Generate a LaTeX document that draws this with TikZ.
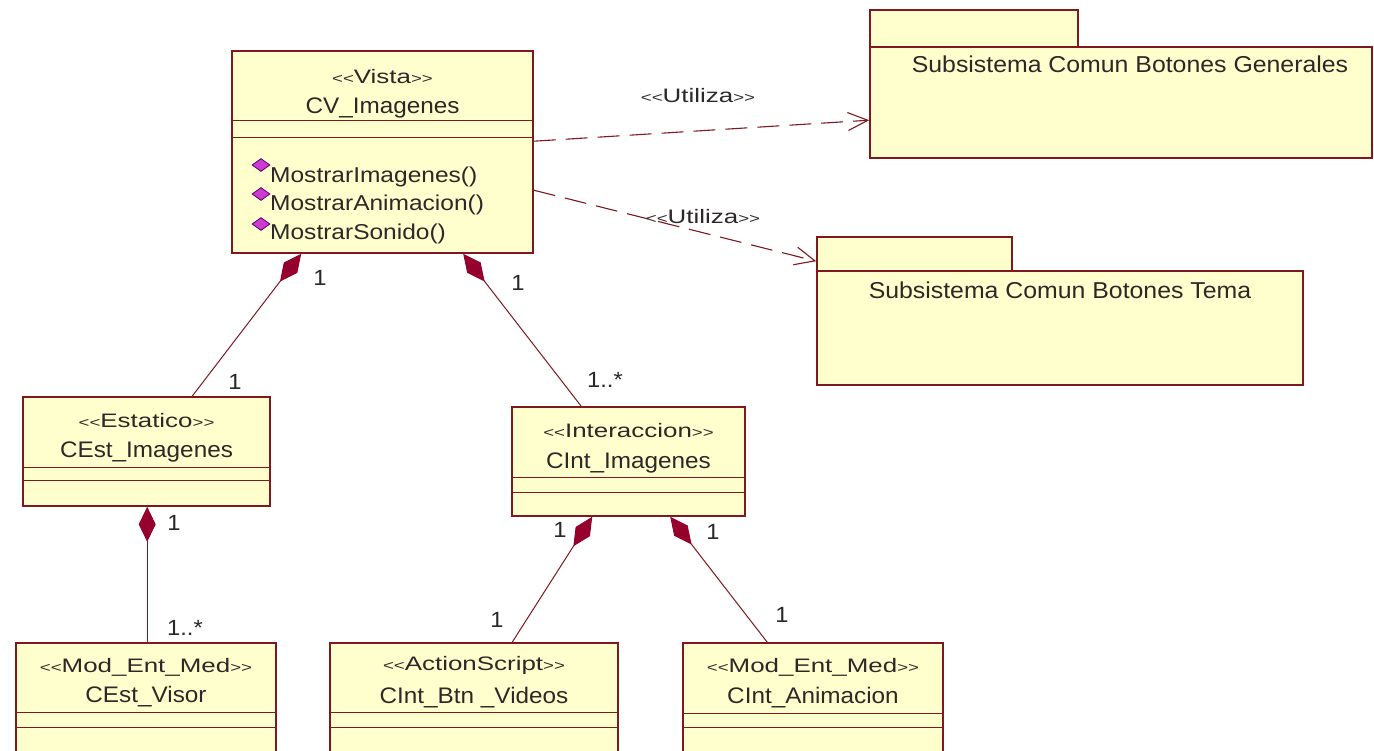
\documentclass[tikz,border=0pt]{standalone}
\usepackage{fontspec}
\setmainfont{Liberation Sans}[FakeStretch=1.08]
\newfontfamily\stfont{Liberation Sans}[FakeStretch=1.33]
\newfontfamily\opfont{Liberation Sans}[FakeStretch=1.14]
\usetikzlibrary{arrows.meta,shapes.geometric}

\definecolor{umlfill}{RGB}{255,255,206}
\definecolor{umlline}{RGB}{128,24,32}
\definecolor{compfill}{RGB}{150,0,45}
\definecolor{opfill}{RGB}{204,60,210}
\definecolor{opline}{RGB}{90,0,100}
\definecolor{txt}{RGB}{45,40,40}

% small chevrons of a stereotype, set one by one
\newcommand\chevl{\mbox{\fontsize{14}{14}\selectfont<}}
\newcommand\chevr{\mbox{\fontsize{14}{14}\selectfont>}}
\newcommand\stereo[1]{\chevl\chevl#1\chevr\chevr}

\begin{document}
\begin{tikzpicture}[x=1pt,y=-1pt,
  text=txt,
  classbox/.style={draw=umlline, fill=umlfill, line width=1.6pt, inner sep=0pt},
  sep/.style={draw=umlline, line width=1.4pt},
  stereotxt/.style={anchor=base, inner sep=0pt, font=\stfont\fontsize{19.5}{19.5}\selectfont},
  nametxt/.style={anchor=base, inner sep=0pt, font=\fontsize{22.5}{22.5}\selectfont},
  optxt/.style={anchor=base west, inner sep=0pt, font=\opfont\fontsize{21.5}{21.5}\selectfont},
  opicon/.style={diamond, draw=opline, fill=opfill, line width=0.8pt, inner sep=0pt,
    minimum width=18pt, minimum height=13pt},
  pkgtxt/.style={anchor=base, inner sep=0pt, font=\fontsize{23}{23}\selectfont},
  mult/.style={inner sep=0pt, font=\fontsize{22}{22}\selectfont},
  comp/.style={draw=umlline, line width=1pt,
    {Diamond[length=35pt,width=17pt,color=compfill,fill=compfill]}-},
  dep/.style={draw=umlline, line width=1.1pt, dash pattern=on 22pt off 10pt,
    -{Straight Barb[length=20pt,width=18pt]}},
  deplabel/.style={anchor=base, inner sep=0pt, font=\stfont\fontsize{19.5}{19.5}\selectfont}
]
\useasboundingbox (0,0) rectangle (1374,750);
\fill[white] (0,0) rectangle (1374,750);
\clip (0,0) rectangle (1374,750);

% ---------- packages ----------
\node[classbox, minimum width=208pt, minimum height=37pt] (pgTab) at (974,28.5) {};
\node[classbox, minimum width=502pt, minimum height=111pt] (pgBody) at (1121,102.5) {};
\node[pkgtxt] (pgName) at (1130,72) {Subsistema Comun Botones Generales};

\node[classbox, minimum width=195pt, minimum height=34pt] (ptTab) at (914.5,254) {};
\node[classbox, minimum width=486pt, minimum height=114pt] (ptBody) at (1060,328) {};
\node[pkgtxt] (ptName) at (1060,298) {Subsistema Comun Botones Tema};

% ---------- CV_Imagenes ----------
\node[classbox, minimum width=301pt, minimum height=202pt] (cv) at (382.5,152) {};
\draw[sep] ([yshift=-70pt]cv.north west) -- ([yshift=-70pt]cv.north east);
\draw[sep] ([yshift=-87pt]cv.north west) -- ([yshift=-87pt]cv.north east);
\node[stereotxt] (cvS) at (382.5,83) {\stereo{Vista}};
\node[nametxt] (cvN) at (382.5,113) {CV\_Imagenes};
\node[opicon] (op1) at (261,165) {};
\node[opicon] (op2) at (261,194) {};
\node[opicon] (op3) at (261,224) {};
\node[optxt] (op1t) at (270,182) {MostrarImagenes()};
\node[optxt] (op2t) at (270,210) {MostrarAnimacion()};
\node[optxt] (op3t) at (270,239) {MostrarSonido()};

% ---------- CEst_Imagenes ----------
\node[classbox, minimum width=247pt, minimum height=109pt] (cest) at (146.5,451.5) {};
\draw[sep] ([yshift=-71pt]cest.north west) -- ([yshift=-71pt]cest.north east);
\draw[sep] ([yshift=-84pt]cest.north west) -- ([yshift=-84pt]cest.north east);
\node[stereotxt] (cestS) at (146.5,427) {\stereo{Estatico}};
\node[nametxt] (cestN) at (146.5,457) {CEst\_Imagenes};

% ---------- CInt_Imagenes ----------
\node[classbox, minimum width=233pt, minimum height=109pt] (cint) at (628.5,461.5) {};
\draw[sep] ([yshift=-71pt]cint.north west) -- ([yshift=-71pt]cint.north east);
\draw[sep] ([yshift=-86pt]cint.north west) -- ([yshift=-86pt]cint.north east);
\node[stereotxt] (cintS) at (628.5,437) {\stereo{Interaccion}};
\node[nametxt] (cintN) at (628.5,468) {CInt\_Imagenes};

% ---------- CEst_Visor ----------
\node[classbox, minimum width=260pt, minimum height=127pt] (visor) at (146,706.5) {};
\draw[sep] ([yshift=-70pt]visor.north west) -- ([yshift=-70pt]visor.north east);
\draw[sep] ([yshift=-85pt]visor.north west) -- ([yshift=-85pt]visor.north east);
\node[stereotxt] (visorS) at (146,672) {\stereo{Mod\_Ent\_Med}};
\node[nametxt] (visorN) at (146,702) {CEst\_Visor};

% ---------- CInt_Btn_Videos ----------
\node[classbox, minimum width=288pt, minimum height=127pt] (btn) at (474,706.5) {};
\draw[sep] ([yshift=-70pt]btn.north west) -- ([yshift=-70pt]btn.north east);
\draw[sep] ([yshift=-85pt]btn.north west) -- ([yshift=-85pt]btn.north east);
\node[stereotxt] (btnS) at (474,670) {\stereo{ActionScript}};
\node[nametxt] (btnN) at (474,703) {CInt\_Btn \_Videos};

% ---------- CInt_Animacion ----------
\node[classbox, minimum width=260pt, minimum height=127pt] (anim) at (813,706.5) {};
\draw[sep] ([yshift=-71pt]anim.north west) -- ([yshift=-71pt]anim.north east);
\draw[sep] ([yshift=-85pt]anim.north west) -- ([yshift=-85pt]anim.north east);
\node[stereotxt] (animS) at (813,672) {\stereo{Mod\_Ent\_Med}};
\node[nametxt] (animN) at (813,703) {CInt\_Animacion};

% ---------- compositions ----------
\draw[comp] ([xshift=70pt]cv.south west) -- ([xshift=170pt]cest.north west);
\draw[comp] ([xshift=232pt]cv.south west) -- ([xshift=70pt]cint.north west);
\draw[comp] ([xshift=125pt]cest.south west) -- ([xshift=132pt]visor.north west);
\draw[comp] ([xshift=81pt]cint.south west) -- ([xshift=183pt]btn.north west);
\draw[comp] ([xshift=159pt]cint.south west) -- ([xshift=85pt]anim.north west);

% multiplicities
\node[mult] (m1a) at (320,278) {1};
\node[mult] (m1b) at (235,382) {1};
\node[mult] (m2a) at (518,283) {1};
\node[mult] (m2b) at (605,380) {1..*};
\node[mult] (m3a) at (174,523) {1};
\node[mult] (m3b) at (185,628) {1..*};
\node[mult] (m4a) at (560,530) {1};
\node[mult] (m4b) at (497,620) {1};
\node[mult] (m5a) at (713,532) {1};
\node[mult] (m5b) at (782,615) {1};

% ---------- dependencies ----------
\draw[dep] ([yshift=-91pt]cv.north east) -- ([yshift=-74pt]pgBody.north west);
\draw[dep] ([yshift=-140pt]cv.north east) -- ([yshift=9pt]ptBody.north west);
\node[deplabel] (u1) at (698,102) {\stereo{Utiliza}};
\node[deplabel] (u2) at (703,223) {\stereo{Utiliza}};
\end{tikzpicture}
\end{document}
